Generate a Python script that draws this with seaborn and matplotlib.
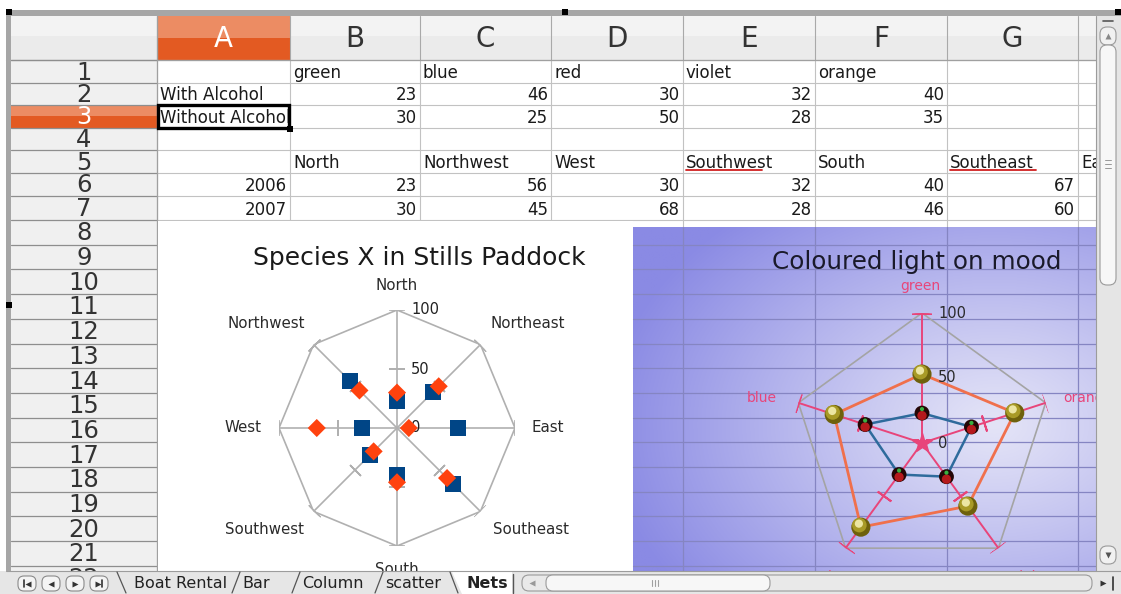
import numpy as np
import pandas as pd
import matplotlib
matplotlib.use("Agg")
import matplotlib.pyplot as plt
import seaborn as sns
from matplotlib.patches import Rectangle, FancyBboxPatch, Polygon
from matplotlib.transforms import ScaledTranslation

sns.set_theme(style="white")
plt.rcParams["font.family"] = ["DejaVu Sans"]

# ---------------- data ----------------
colours = ["green", "blue", "red", "violet", "orange"]
with_alcohol = [23, 46, 30, 32, 40]
without_alcohol = [30, 25, 50, 28, 35]
series_names = ["With Alcohol", "Without Alcohol"]

directions = ["North", "Northwest", "West", "Southwest", "South",
              "Southeast", "East", "Northeast"]
y2006 = [23, 56, 30, 32, 40, 67, 52, 43]
y2007 = [30, 45, 68, 28, 46, 60, 10, 50]
years = ["2006", "2007"]

radial_ticks = [0, 50, 100]
col_letters = ["A", "B", "C", "D", "E", "F", "G", ""]
row_numbers = list(range(1, 23))
sheet_tabs = ["Boat Rental", "Bar", "Column", "scatter", "Nets"]
title1 = "Species X in Stills Paddock"
title2 = "Coloured light on mood"

# ---------------- figure ----------------
W, H = 1121, 594
fig = plt.figure(figsize=(W / 100, H / 100), dpi=100, facecolor="white")
bg = fig.add_axes([0, 0, 1, 1])
bg.set_zorder(0)
bg.axis("off")

col_edges = [157, 290, 420, 551, 683, 815, 947, 1078, 1210]
row_edges = [60, 83, 105, 128, 150, 173, 196] + [220 + 24.7 * k for k in range(17)]
GRID = "#c2c2c2"
HDR_LINE = "#8e8e8e"

# column header strip
bg.add_patch(Rectangle((6, 16), 1100, 44, facecolor="#ebebeb", edgecolor="none", zorder=1))
bg.add_patch(Rectangle((6, 16), 1100, 20, facecolor="#f3f3f3", edgecolor="none", zorder=1))
# row header column
bg.add_patch(Rectangle((11, 60), 146, 520, facecolor="#f0f0f0", edgecolor="none", zorder=1))
# active column A header
bg.add_patch(Rectangle((157, 16), 133, 22, facecolor="#ec8c63", edgecolor="none", zorder=2))
bg.add_patch(Rectangle((157, 38), 133, 22, facecolor="#e35a22", edgecolor="none", zorder=2))
# active row 3 header
bg.add_patch(Rectangle((11, 105), 146, 11, facecolor="#ec8c63", edgecolor="none", zorder=2))
bg.add_patch(Rectangle((11, 116), 146, 12, facecolor="#e35a22", edgecolor="none", zorder=2))

# column header separators and letters
for i, letter in enumerate(col_letters):
    x0, x1 = col_edges[i], col_edges[i + 1]
    bg.plot([x0, x0], [16, 60], color="#a9a9a9", lw=0.8, zorder=3)
    if letter:
        bg.text((x0 + x1) / 2, 39, letter, ha="center", va="center",
                fontsize=20, color="white" if letter == "A" else "#333333", zorder=4)
bg.plot([6, 1100], [60, 60], color="#a0a0a0", lw=0.9, zorder=3)

# cell grid
for x in col_edges[:8]:
    bg.plot([x, x], [60, 580], color=GRID, lw=0.8, zorder=2)
for y in row_edges:
    if y < 580:
        bg.plot([157, 1100], [y, y], color=GRID, lw=0.8, zorder=2)
        bg.plot([11, 157], [y, y], color=HDR_LINE, lw=0.9, zorder=3)
bg.plot([157, 157], [16, 580], color="#a0a0a0", lw=0.9, zorder=3)

# row numbers
for k, n in enumerate(row_numbers):
    y0, y1 = row_edges[k], row_edges[k + 1]
    bg.text(84, (y0 + y1) / 2 + 1, str(n), ha="center", va="center", fontsize=17.5,
            color="white" if n == 3 else "#333333", zorder=4)

# cell contents
def cell(col, row, txt, align="left", clip=False):
    x0, x1 = col_edges[col], col_edges[col + 1]
    yb = row_edges[row] - 5
    x = x0 + 3 if align == "left" else x1 - 3
    t = bg.text(x, yb, txt, ha=align, va="baseline", fontsize=12, color="#1a1a1a", zorder=4)
    if clip:
        r = Rectangle((x0, row_edges[row - 1]), x1 - x0 - 1, row_edges[row] - row_edges[row - 1],
                      transform=bg.transData)
        t.set_clip_path(r)
        t.set_clip_on(True)
    return t

for j, c in enumerate(colours):
    cell(j + 1, 1, c)
    cell(j + 1, 2, str(with_alcohol[j]), "right")
    cell(j + 1, 3, str(without_alcohol[j]), "right")
cell(0, 2, series_names[0])
cell(0, 3, series_names[1], clip=True)
for j in range(6):
    cell(j + 1, 5, directions[j])
    cell(j + 1, 6, str(y2006[j]), "right")
    cell(j + 1, 7, str(y2007[j]), "right")
cell(7, 5, directions[6])
cell(0, 6, years[0], "right")
cell(0, 7, years[1], "right")
# spell-check underlines
for x0, x1 in [(686, 762), (950, 1036)]:
    bg.plot([x0, x1], [170, 170], color="#d02020", lw=1.3, zorder=5)
# cell cursor
bg.add_patch(Rectangle((158, 105), 131, 23, facecolor="none", edgecolor="black", lw=2.4, zorder=6))
bg.add_patch(Rectangle((287, 126), 6, 6, facecolor="black", edgecolor="none", zorder=6))

# chart 1 area (white) and chart 2 area (gradient)
bg.add_patch(Rectangle((158, 221), 475, 360, facecolor="white", edgecolor="none", zorder=7))
gx = np.linspace(633, 1100, 240)
gy = np.linspace(227, 580, 180)
GX, GY = np.meshgrid(gx, gy)
d = np.clip(np.sqrt(((GX - 995) / 390) ** 2 + ((GY - 425) / 280) ** 2), 0, 1)
light = np.array([228, 228, 247]) / 255
dark = np.array([138, 138, 228]) / 255
img = light + (dark - light) * (d[..., None] ** 1.1)
bg.imshow(img, extent=(633, 1100, 580, 227), aspect="auto", zorder=7, interpolation="bilinear")
for x in col_edges[4:8]:
    bg.plot([x, x], [227, 580], color="#8585c2", lw=0.9, zorder=8)
for y in row_edges:
    if 227 < y < 580:
        bg.plot([633, 1100], [y, y], color="#8585c2", lw=0.9, zorder=8)

# titles
bg.text(419, 258, title1, ha="center", va="center", fontsize=18, color="#1a1a1a", zorder=9)
bg.text(917, 262, title2, ha="center", va="center", fontsize=17.7, color="#1a1a2a", zorder=9)

# category labels chart 1
lab1_pos = [(397, 285), (266, 323), (243, 428), (264, 530), (397, 569),
            (531, 530), (548, 428), (528, 323)]
for name, (x, y) in zip(directions, lab1_pos):
    bg.text(x, y, name, ha="center", va="center", fontsize=10.8, color="#2a2a2a", zorder=9)

# category labels chart 2
PINK = "#e8457a"
lab2_pos = [(920, 286, "center"), (762, 398, "center"), (821, 577, "center"),
            (1031, 577, "center"), (1063, 398, "left")]
for name, (x, y, ha) in zip(colours, lab2_pos):
    bg.text(x, y, name, ha=ha, va="center", fontsize=10, color=PINK, zorder=9)

bg.set_xlim(0, W)
bg.set_ylim(H, 0)


def polar_axes(cx, cy, R):
    ax = fig.add_axes([(cx - R) / W, (H - cy - R) / H, 2 * R / W, 2 * R / H], projection="polar")
    ax.set_zorder(5)
    ax.set_theta_zero_location("N")
    ax.set_theta_direction(1)
    ax.grid(False)
    ax.patch.set_alpha(0)
    ax.spines["polar"].set_visible(False)
    return ax


# ---------------- chart 1 ----------------
GRAY = "#b0b0b0"
ax1 = polar_axes(397, 428, 118)
n1 = len(directions)
theta1 = np.deg2rad(np.arange(n1) * 360 / n1)
ax1.plot(np.append(theta1, 2 * np.pi), [100] * (n1 + 1), color=GRAY, lw=1.2, zorder=1)
for i, t in enumerate(theta1):
    phi = 90 + i * 360 / n1
    ax1.plot([t, t], [0, 100], color=GRAY, lw=1.2, zorder=1)
    ax1.plot(t, 100, marker=(2, 2, phi), ms=12, mew=1.2, color=GRAY, zorder=1)
    ax1.plot(t, 50, marker=(2, 2, phi), ms=11, mew=1.2, color=GRAY, zorder=1)

df1 = pd.DataFrame({
    "theta": np.concatenate([theta1, theta1]),
    "value": y2006 + y2007,
    "year": [years[0]] * n1 + [years[1]] * n1,
})
sns.scatterplot(data=df1[df1.year == years[0]], x="theta", y="value", marker="s", s=130,
                color="#004586", edgecolor="none", ax=ax1, legend=False, zorder=3)
sns.scatterplot(data=df1[df1.year == years[1]], x="theta", y="value", marker="D", s=85,
                color="#ff420e", edgecolor="none", ax=ax1, legend=False, zorder=4)
for v in radial_ticks:
    ax1.annotate(str(v), xy=(0, v), xytext=(14, 0), textcoords="offset pixels",
                 ha="left", va="center", fontsize=10.5, color="#222222", annotation_clip=False,
                 zorder=2)
ax1.set_xticks([])
ax1.set_yticks([])
ax1.set_xlabel("")
ax1.set_ylabel("")
ax1.set_ylim(0, 100)

# ---------------- chart 2 ----------------
ax2 = polar_axes(922, 443, 130)
n2 = len(colours)
theta2 = np.deg2rad(np.arange(n2) * 360 / n2)
ax2.plot(np.append(theta2, 2 * np.pi), [100] * (n2 + 1), color="#a4a4a4", lw=1.2, zorder=1)
for i, t in enumerate(theta2):
    phi = 90 + i * 360 / n2
    ax2.plot([t, t], [0, 100], color=PINK, lw=1.4, zorder=2)
    ax2.plot(t, 100, marker=(2, 2, phi), ms=14, mew=1.6, color=PINK, zorder=2)
    ax2.plot(t, 50, marker=(2, 2, phi), ms=12, mew=1.4, color=PINK, zorder=2)
ax2.plot(0, 0, marker="*", ms=15, color=PINK, mec=PINK, zorder=6)

stacked = [a + b for a, b in zip(with_alcohol, without_alcohol)]
closed_theta = np.append(theta2, 2 * np.pi)
df_gold = pd.DataFrame({"theta": closed_theta, "value": stacked + stacked[:1]})
df_dark = pd.DataFrame({"theta": closed_theta, "value": with_alcohol + with_alcohol[:1]})
sns.lineplot(data=df_gold, x="theta", y="value", sort=False, estimator=None,
             color="#f0704c", lw=2.0, ax=ax2, zorder=3)
sns.lineplot(data=df_dark, x="theta", y="value", sort=False, estimator=None,
             color="#2e6b9c", lw=1.8, ax=ax2, zorder=3)

# gold spheres
sns.scatterplot(x=theta2, y=stacked, s=190, color="#6e610c", edgecolor="none",
                ax=ax2, legend=False, zorder=4)
up = ScaledTranslation(-1.5 / 100, 2 / 100, fig.dpi_scale_trans)
ax2.scatter(theta2, stacked, s=110, color="#a89a26", edgecolor="none", zorder=5,
            transform=ax2.transData + up)
ax2.scatter(theta2, stacked, s=35, color="#ece6a2", edgecolor="none", zorder=5,
            transform=ax2.transData + ScaledTranslation(-2 / 100, 3.5 / 100, fig.dpi_scale_trans))
# dark spheres
sns.scatterplot(x=theta2, y=with_alcohol, s=115, color="#240606", edgecolor="none",
                ax=ax2, legend=False, zorder=4)
ax2.scatter(theta2, with_alcohol, s=45, color="#b5191c", edgecolor="none", zorder=5,
            transform=ax2.transData + ScaledTranslation(0, -2.5 / 100, fig.dpi_scale_trans))
ax2.scatter(theta2, with_alcohol, s=9, color="#38b040", edgecolor="none", zorder=5,
            transform=ax2.transData + ScaledTranslation(0, 4 / 100, fig.dpi_scale_trans))

for v in radial_ticks:
    ax2.annotate(str(v), xy=(0, v), xytext=(16, 0), textcoords="offset pixels",
                 ha="left", va="center", fontsize=10.5, color="#2a2a2a", annotation_clip=False,
                 zorder=7)
ax2.set_xticks([])
ax2.set_yticks([])
ax2.set_xlabel("")
ax2.set_ylabel("")
ax2.set_ylim(0, 100)

# ---------------- foreground chrome ----------------
fg = fig.add_axes([0, 0, 1, 1])
fg.set_zorder(10)
fg.patch.set_alpha(0)
fg.axis("off")

# frame bars and handles
fg.add_patch(Rectangle((6, 10), 1115, 6, facecolor="#a6a6a6", edgecolor="none"))
fg.add_patch(Rectangle((6, 10), 5, 561, facecolor="#a6a6a6", edgecolor="none"))
for (x, y) in [(9, 12), (565, 12), (1118, 12), (9, 305), (1118, 303)]:
    fg.add_patch(Rectangle((x - 3, y - 3), 6, 6, facecolor="black", edgecolor="none"))

# vertical scrollbar
fg.add_patch(Rectangle((1096, 16), 25, 555, facecolor="#e5e5e5", edgecolor="none"))
fg.plot([1096, 1096], [16, 571], color="#9c9c9c", lw=0.8)
fg.plot([1103, 1113], [21, 21], color="#555555", lw=1.2)
fg.add_patch(FancyBboxPatch((1100, 27), 16, 18, boxstyle="round,pad=0,rounding_size=7",
                            facecolor="#f1f1f1", edgecolor="#9a9a9a", lw=0.8))
fg.plot(1108, 36, marker="^", ms=4, color="#888888", mec="none")
fg.add_patch(FancyBboxPatch((1100, 45), 16, 240, boxstyle="round,pad=0,rounding_size=7",
                            facecolor="#f7f7f7", edgecolor="#9a9a9a", lw=0.8))
for y in (160, 164, 168):
    fg.plot([1105, 1111], [y, y], color="#999999", lw=0.7)
fg.add_patch(FancyBboxPatch((1100, 546), 16, 18, boxstyle="round,pad=0,rounding_size=7",
                            facecolor="#f1f1f1", edgecolor="#9a9a9a", lw=0.8))
fg.plot(1108, 555, marker="v", ms=4, color="#555555", mec="none")

# tab bar
fg.add_patch(Rectangle((0, 571), W, 23, facecolor="#e6e6e6", edgecolor="none"))
fg.plot([6, W], [571, 571], color="#9c9c9c", lw=0.8)
nav = [("<", True), ("<", False), (">", False), (">", True)]
for cx, (mk, bar) in zip([27, 51, 75, 99], nav):
    fg.add_patch(FancyBboxPatch((cx - 9, 576), 18, 15, boxstyle="round,pad=0,rounding_size=6",
                                facecolor="#f4f4f4", edgecolor="#8a8a8a", lw=0.8))
    fg.plot(cx + (1 if mk == "<" and bar else -1 if bar else 0), 583.5, marker=mk, ms=4,
            color="#333333", mec="none")
    if bar:
        bx = cx - 3 if mk == "<" else cx + 3
        fg.plot([bx, bx], [580, 587], color="#333333", lw=1.2)
# tabs
fg.add_patch(Polygon([(452, 572), (512, 572), (512, 594), (462, 594)], closed=True,
                     facecolor="white", edgecolor="none"))
tab_x = [134, 242, 302, 385, 467]
for name, x in zip(sheet_tabs, tab_x):
    fg.text(x, 584, name, ha="left", va="center", fontsize=11.5,
            fontweight="bold" if name == "Nets" else "normal", color="#222222")
fg.plot([117, 126], [572, 593], color="#555555", lw=0.9)
for x in [232, 292, 375]:
    fg.plot([x, x + 8], [593, 572], color="#555555", lw=0.9)
fg.plot([450, 458], [572, 593], color="#555555", lw=0.9)
fg.plot([513, 513], [574, 593], color="#555555", lw=1.0)
# horizontal scrollbar
fg.add_patch(FancyBboxPatch((522, 575), 570, 16, boxstyle="round,pad=0,rounding_size=7",
                            facecolor="#e9e9e9", edgecolor="#9a9a9a", lw=0.8))
fg.plot(532, 583, marker="<", ms=4, color="#999999", mec="none")
fg.add_patch(FancyBboxPatch((546, 575), 224, 16, boxstyle="round,pad=0,rounding_size=7",
                            facecolor="#f7f7f7", edgecolor="#9a9a9a", lw=0.8))
for x in (652, 655, 658):
    fg.plot([x, x], [580, 586], color="#a0a0a0", lw=0.8)
fg.plot(1103, 583, marker=">", ms=5, color="#333333", mec="none")
fg.plot([1113, 1113], [577, 590], color="#333333", lw=1.2)

fg.set_xlim(0, W)
fg.set_ylim(H, 0)

fig.savefig("out.png", dpi=100, facecolor="white")
